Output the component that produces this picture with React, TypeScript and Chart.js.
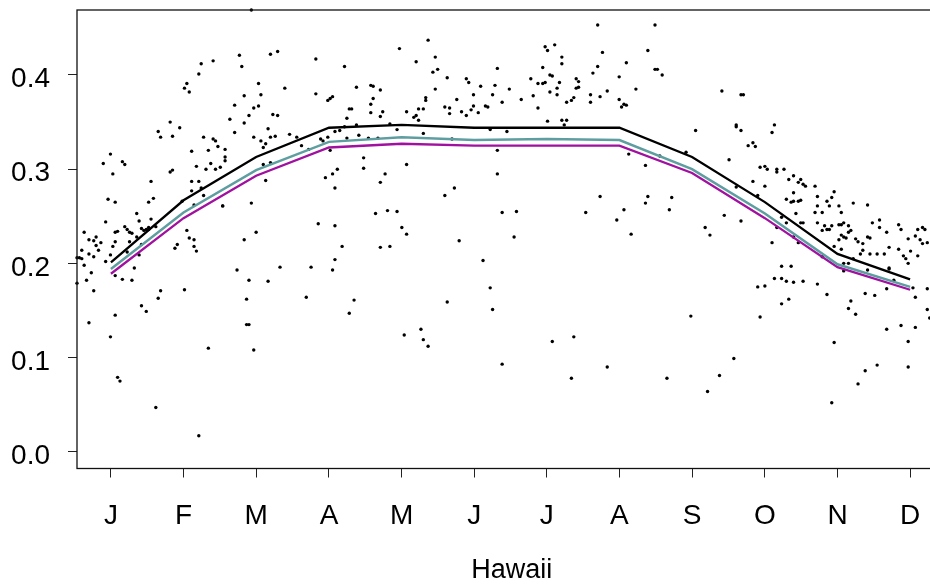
import React, { useEffect, useRef } from "react";
import { Chart, registerables } from "chart.js";

Chart.register(...registerables);

// Month ticks sit at the middle of each month on a day-of-year axis.
const MONTH_LABELS = ["J", "F", "M", "A", "M", "J", "J", "A", "S", "O", "N", "D"];
const MONTH_MID_DAYS = [15.2, 45.6, 76.0, 106.5, 136.9, 167.3, 197.7, 228.1, 258.5, 289.0, 319.4, 349.8];
const Y_TICKS = [0, 0.1, 0.2, 0.3, 0.4];

// Monthly mean curves.
const MEAN_BLACK = [0.201, 0.267, 0.313, 0.344, 0.347, 0.344, 0.344, 0.344, 0.313, 0.265, 0.210, 0.183];
const MEAN_TEAL = [0.194, 0.254, 0.299, 0.329, 0.334, 0.331, 0.332, 0.331, 0.300, 0.253, 0.199, 0.175];
const MEAN_MAGENTA = [0.189, 0.248, 0.293, 0.323, 0.327, 0.325, 0.325, 0.325, 0.296, 0.248, 0.196, 0.172];

// Daily observations, [day of year, value].
const OBS_JAN_MAR: [number, number][] = [
  [58, 0.415], [53, 0.412], [52, 0.401], [47, 0.391], [46, 0.386], [48, 0.382], [40, 0.35], [44, 0.344],
  [35, 0.34], [36, 0.334], [41, 0.335], [54, 0.334], [58, 0.332], [59, 0.33], [60, 0.324], [56, 0.32],
  [49, 0.319], [15, 0.316], [12, 0.306], [16, 0.295], [20, 0.308], [21, 0.305], [57, 0.306], [51, 0.303],
  [55, 0.3], [59, 0.3], [61, 0.302], [40, 0.297], [41, 0.299], [32, 0.287], [49, 0.287], [52, 0.287],
  [49, 0.277], [53, 0.28], [54, 0.272], [14, 0.268], [17, 0.265], [33, 0.269], [31, 0.265], [45, 0.266],
  [50, 0.262], [62, 0.261], [26, 0.253], [13, 0.244], [27, 0.245], [32, 0.247], [21, 0.239], [22, 0.236],
  [18, 0.234], [17, 0.233], [23, 0.233], [24, 0.232], [28, 0.237], [29, 0.235], [30, 0.236], [31, 0.238],
  [31, 0.236], [34, 0.239], [26, 0.228], [28, 0.22], [23, 0.223], [17, 0.223], [4, 0.233], [6, 0.225],
  [8, 0.224], [9, 0.228], [11, 0.222], [9, 0.219], [10, 0.214], [16, 0.218], [3, 0.214], [6, 0.21],
  [8, 0.207], [15, 0.209], [13, 0.202], [2, 0.206], [3, 0.205], [4, 0.198], [22, 0.212], [27, 0.209],
  [47, 0.235], [48, 0.227], [50, 0.225], [50, 0.218], [51, 0.213], [42, 0.216], [43, 0.22], [1, 0.206],
  [7, 0.19], [5, 0.182], [17, 0.187], [20, 0.183], [24, 0.182], [25, 0.195], [8, 0.171], [36, 0.171],
  [35, 0.163], [46, 0.172], [28, 0.155], [30, 0.149], [17, 0.145], [6, 0.137], [15, 0.122], [56, 0.11],
  [18, 0.079], [19, 0.075], [34, 0.047], [52, 0.017], [1, 0.179],
];

const OBS_MAR_MAY: [number, number][] = [
  [74, 0.469], [69, 0.421], [70, 0.409], [82, 0.422], [85, 0.425], [77, 0.391], [78, 0.379], [71, 0.378],
  [67, 0.368], [88, 0.386], [101, 0.417], [101, 0.38], [113, 0.409], [118, 0.387], [106, 0.373], [107, 0.375],
  [108, 0.377], [75, 0.365], [77, 0.367], [73, 0.357], [65, 0.353], [71, 0.349], [67, 0.339], [83, 0.358],
  [85, 0.357], [81, 0.343], [75, 0.334], [82, 0.334], [84, 0.335], [78, 0.33], [80, 0.327], [79, 0.323],
  [90, 0.337], [93, 0.334], [95, 0.325], [98, 0.321], [103, 0.332], [104, 0.33], [106, 0.334], [109, 0.34],
  [111, 0.341], [113, 0.345], [115, 0.364], [116, 0.364], [114, 0.354], [114, 0.333], [118, 0.347], [119, 0.336],
  [107, 0.32], [63, 0.321], [63, 0.313], [63, 0.309], [79, 0.305], [82, 0.307], [80, 0.288], [121, 0.312],
  [121, 0.301], [105, 0.291], [108, 0.295], [110, 0.3], [109, 0.28], [62, 0.261], [74, 0.264], [102, 0.242],
  [109, 0.24], [76, 0.233], [71, 0.225], [112, 0.218], [109, 0.204], [68, 0.193], [86, 0.196], [99, 0.196],
  [108, 0.193], [73, 0.182], [81, 0.181], [72, 0.162], [97, 0.164], [117, 0.161], [115, 0.147], [72, 0.135],
  [73, 0.135], [75, 0.108],
];

const OBS_MAY_JUL: [number, number][] = [
  [148, 0.437], [136, 0.428], [143, 0.414], [151, 0.419], [150, 0.403], [152, 0.406], [156, 0.397], [177, 0.407],
  [164, 0.396], [165, 0.392], [124, 0.389], [125, 0.388], [128, 0.384], [151, 0.385], [182, 0.385], [176, 0.389],
  [170, 0.388], [125, 0.375], [124, 0.369], [124, 0.36], [129, 0.361], [128, 0.356], [139, 0.361], [142, 0.355],
  [143, 0.357], [144, 0.352], [144, 0.364], [146, 0.364], [147, 0.376], [147, 0.373], [155, 0.366], [157, 0.359],
  [157, 0.365], [160, 0.374], [162, 0.361], [164, 0.357], [166, 0.363], [167, 0.367], [167, 0.379], [169, 0.36],
  [172, 0.367], [173, 0.366], [175, 0.379], [179, 0.371], [132, 0.348], [135, 0.342], [123, 0.333], [127, 0.333],
  [146, 0.338], [158, 0.332], [174, 0.342], [181, 0.34], [177, 0.32], [139, 0.305], [130, 0.295], [128, 0.286],
  [177, 0.295], [155, 0.272], [159, 0.28], [126, 0.253], [131, 0.256], [135, 0.255], [179, 0.254], [137, 0.238],
  [139, 0.231], [128, 0.217], [132, 0.218], [161, 0.224], [171, 0.203], [174, 0.174], [175, 0.151], [156, 0.159],
  [138, 0.124], [145, 0.13], [146, 0.119], [148, 0.112], [179, 0.093],
];

const OBS_JUL_SEP: [number, number][] = [
  [219, 0.453], [243, 0.453], [197, 0.43], [198, 0.426], [201, 0.432], [204, 0.419], [204, 0.412], [221, 0.424],
  [240, 0.426], [243, 0.406], [196, 0.408], [219, 0.409], [231, 0.413], [217, 0.402], [191, 0.396], [199, 0.4],
  [200, 0.399], [194, 0.391], [196, 0.391], [197, 0.392], [203, 0.392], [210, 0.396], [211, 0.393], [202, 0.386],
  [210, 0.386], [211, 0.387], [228, 0.398], [235, 0.385], [192, 0.378], [187, 0.374], [199, 0.382], [202, 0.379],
  [209, 0.376], [208, 0.373], [206, 0.371], [216, 0.379], [216, 0.371], [220, 0.377], [223, 0.383], [228, 0.374],
  [229, 0.366], [230, 0.369], [231, 0.368], [194, 0.365], [198, 0.351], [204, 0.352], [206, 0.352], [205, 0.347],
  [232, 0.316], [239, 0.304], [220, 0.271], [240, 0.271], [239, 0.264], [185, 0.255], [214, 0.254], [230, 0.257],
  [227, 0.246], [233, 0.231], [184, 0.228], [200, 0.117], [209, 0.122], [208, 0.078], [223, 0.09],
];

const OBS_SEP_NOV: [number, number][] = [
  [244, 0.406], [246, 0.4], [271, 0.383], [279, 0.379], [280, 0.379], [260, 0.341], [277, 0.347], [277, 0.345],
  [279, 0.341], [293, 0.347], [292, 0.339], [282, 0.325], [284, 0.328], [285, 0.324], [256, 0.318], [245, 0.314],
  [274, 0.31], [287, 0.302], [289, 0.303], [290, 0.3], [294, 0.3], [294, 0.297], [297, 0.3], [301, 0.293],
  [299, 0.289], [303, 0.286], [304, 0.289], [284, 0.287], [289, 0.282], [277, 0.281], [286, 0.272], [301, 0.275],
  [298, 0.268], [300, 0.265], [301, 0.266], [303, 0.266], [304, 0.267], [302, 0.253], [296, 0.249], [298, 0.243],
  [294, 0.238], [301, 0.228], [303, 0.222], [304, 0.243], [292, 0.222], [250, 0.27], [249, 0.257], [272, 0.251],
  [279, 0.245], [264, 0.238], [266, 0.23], [296, 0.197], [300, 0.197], [293, 0.184], [296, 0.184], [298, 0.181],
  [301, 0.18], [286, 0.175], [289, 0.176], [296, 0.157], [299, 0.162], [287, 0.143], [258, 0.144], [276, 0.099],
  [270, 0.081], [265, 0.064], [248, 0.078],
];

const OBS_NOV_DEC: [number, number][] = [
  [305, 0.284], [306, 0.282], [310, 0.282], [311, 0.271], [318, 0.276], [317, 0.27], [315, 0.266], [316, 0.261],
  [311, 0.261], [310, 0.254], [313, 0.254], [320, 0.261], [321, 0.254], [326, 0.264], [332, 0.262], [305, 0.243],
  [311, 0.243], [314, 0.24], [313, 0.235], [315, 0.236], [316, 0.236], [317, 0.24], [320, 0.241], [321, 0.241],
  [322, 0.243], [324, 0.24], [325, 0.235], [324, 0.233], [321, 0.23], [322, 0.228], [323, 0.227], [320, 0.225],
  [318, 0.218], [327, 0.226], [328, 0.223], [330, 0.221], [332, 0.228], [333, 0.227], [334, 0.243], [337, 0.246],
  [337, 0.238], [340, 0.233], [345, 0.241], [346, 0.236], [349, 0.226], [352, 0.229], [353, 0.236], [355, 0.238],
  [356, 0.236], [354, 0.225], [355, 0.221], [357, 0.222], [321, 0.215], [329, 0.21], [330, 0.214], [333, 0.21],
  [336, 0.21], [339, 0.21], [341, 0.217], [345, 0.215], [347, 0.208], [348, 0.205], [350, 0.213], [353, 0.208],
  [349, 0.2], [313, 0.207], [322, 0.2], [324, 0.2], [326, 0.205], [322, 0.192], [332, 0.193], [341, 0.195],
  [341, 0.194], [343, 0.182], [340, 0.173], [305, 0.181], [311, 0.178], [315, 0.167], [331, 0.168], [335, 0.166],
  [351, 0.174], [352, 0.164], [357, 0.173], [357, 0.151], [358, 0.142], [325, 0.16], [324, 0.152], [327, 0.146],
  [340, 0.13], [346, 0.134], [352, 0.132], [349, 0.117], [318, 0.116], [336, 0.092], [331, 0.086], [349, 0.09],
  [328, 0.072], [317, 0.052],
];

const DAY_MIN = 1;
const DAY_MAX = 365;
const Y_MIN = -0.0178;
const Y_MAX = 0.469;

const FONT_FAMILY = "'Liberation Sans', Arial, Helvetica, sans-serif";
const CANVAS_W = 960;
const CANVAS_H = 584;

// Box around the plotting region, drawn over the data like a base-graphics frame.
const framePlugin = {
  id: "plotFrame",
  afterDraw(chart: Chart) {
    const { ctx, chartArea } = chart;
    ctx.save();
    ctx.strokeStyle = "#111";
    ctx.lineWidth = 1.3;
    ctx.strokeRect(chartArea.left, chartArea.top, chartArea.right - chartArea.left, chartArea.bottom - chartArea.top);
    ctx.restore();
  },
};

const toPoints = (values: number[]) => values.map((y, i) => ({ x: MONTH_MID_DAYS[i], y }));

export default function App() {
  const canvasRef = useRef<HTMLCanvasElement | null>(null);

  useEffect(() => {
    const canvas = canvasRef.current;
    if (!canvas) return;

    const observations = [
      ...OBS_JAN_MAR,
      ...OBS_MAR_MAY,
      ...OBS_MAY_JUL,
      ...OBS_JUL_SEP,
      ...OBS_SEP_NOV,
      ...OBS_NOV_DEC,
    ].map(([x, y]) => ({ x, y }));

    const meanLine = (data: number[], color: string, width: number, order: number) => ({
      data: toPoints(data),
      showLine: true,
      borderColor: color,
      backgroundColor: color,
      borderWidth: width,
      pointRadius: 0,
      tension: 0,
      order,
    });

    const chart = new Chart(canvas, {
      type: "scatter",
      data: {
        datasets: [
          meanLine(MEAN_BLACK, "#000000", 2.3, 1),
          meanLine(MEAN_TEAL, "#5f9ea0", 2.5, 2),
          meanLine(MEAN_MAGENTA, "#a0119f", 2.3, 3),
          {
            data: observations,
            showLine: false,
            pointRadius: 1.7,
            pointBorderWidth: 0,
            pointBackgroundColor: "#000000",
            backgroundColor: "#000000",
            borderColor: "#000000",
            clip: false,
            order: 10,
          },
        ],
      },
      plugins: [framePlugin],
      options: {
        animation: false,
        responsive: false,
        maintainAspectRatio: false,
        devicePixelRatio: 1,
        events: [],
        layout: { padding: { left: 0, top: 10, right: 13.6, bottom: 0 } },
        plugins: { legend: { display: false }, tooltip: { enabled: false } },
        scales: {
          x: {
            type: "linear",
            min: DAY_MIN,
            max: DAY_MAX,
            afterBuildTicks: (scale: any) => {
              scale.ticks = MONTH_MID_DAYS.map((value) => ({ value }));
            },
            afterFit: (scale: any) => {
              scale.height = 115.5;
              scale.paddingLeft = 0;
              scale.paddingRight = 0;
            },
            border: { display: false },
            grid: {
              display: true,
              drawOnChartArea: false,
              drawTicks: true,
              tickLength: 9,
              color: "#222",
              lineWidth: 1,
            },
            ticks: {
              autoSkip: false,
              maxRotation: 0,
              minRotation: 0,
              padding: 22,
              color: "#000",
              font: { family: FONT_FAMILY, size: 28 },
              callback: (_v: any, index: number) => MONTH_LABELS[index],
            },
            title: {
              display: true,
              text: "Hawaii",
              color: "#000",
              font: { family: FONT_FAMILY, size: 27, lineHeight: 1 },
              padding: { top: 0, bottom: 0 },
            },
          },
          y: {
            type: "linear",
            min: Y_MIN,
            max: Y_MAX,
            afterBuildTicks: (scale: any) => {
              scale.ticks = Y_TICKS.map((value) => ({ value }));
            },
            afterFit: (scale: any) => {
              scale.width = 77;
              scale.paddingTop = 0;
              scale.paddingBottom = 0;
            },
            border: { display: false },
            grid: {
              display: true,
              drawOnChartArea: false,
              drawTicks: true,
              tickLength: 9,
              color: "#222",
              lineWidth: 1,
            },
            ticks: {
              padding: 18,
              labelOffset: 4.5,
              color: "#000",
              font: { family: FONT_FAMILY, size: 28 },
              callback: (v: any) => Number(v).toFixed(1),
            },
          },
        },
      },
    });

    return () => chart.destroy();
  }, []);

  return (
    <div
      style={{
        position: "fixed",
        left: 0,
        top: 0,
        width: 930,
        height: 584,
        overflow: "hidden",
        background: "#ffffff",
      }}
    >
      <canvas ref={canvasRef} width={CANVAS_W} height={CANVAS_H} style={{ display: "block" }} />
    </div>
  );
}
